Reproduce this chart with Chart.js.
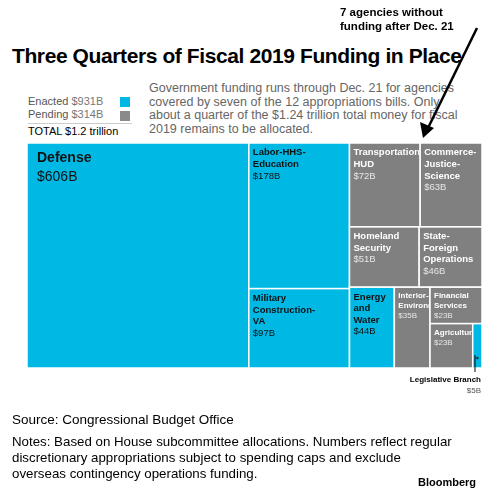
<!DOCTYPE html>
<html><head><meta charset="utf-8">
<script src="https://cdn.jsdelivr.net/npm/chart.js@4"></script>
<style>
body{margin:0;width:498px;height:495px;background:#fff;font-family:"Liberation Sans",Arial,sans-serif;position:relative;overflow:hidden}
.a{position:absolute}
</style></head><body>
<div class="a" style="left:12px;top:44px;font-size:21px;font-weight:bold;letter-spacing:-0.4px;color:#000;white-space:nowrap">Three Quarters of Fiscal 2019 Funding in Place</div>
<div class="a" style="left:28px;top:95px;font-size:11px;color:#555;line-height:13px">Enacted <span style="color:#777">$931B</span><br>Pending <span style="color:#777">$314B</span></div>
<div class="a" style="left:120px;top:97px;width:10px;height:10px;background:#00b8e4"></div>
<div class="a" style="left:120px;top:111px;width:10px;height:10px;background:#8a8a8a"></div>
<div class="a" style="left:28px;top:123px;width:104px;border-top:1px solid #ccc;font-size:11px;color:#000;padding-top:1px">TOTAL $1.2 trillion</div>
<div class="a" style="left:149px;top:82px;font-size:12.5px;color:#666;line-height:13.5px;white-space:nowrap">Government funding runs through Dec. 21 for agencies<br>covered by seven of the 12 appropriations bills. Only<br>about a quarter of the $1.24 trillion total money for fiscal<br>2019 remains to be allocated.</div>
<div class="a" style="left:27px;top:143px;width:455px;height:225px"><canvas id="c"></canvas></div>
<svg class="a" style="left:0;top:0" width="498" height="495">
<line x1="477" y1="28" x2="428" y2="128" stroke="#000" stroke-width="2.5"/>
<polygon points="423,138 420,122 434,128" fill="#000"/>
<line x1="475" y1="355" x2="475" y2="372" stroke="#000" stroke-width="1"/>
</svg>
<div class="a" style="left:340px;top:5px;font-size:11.5px;font-weight:bold;line-height:14px;background:#fff;text-shadow:0 0 2px #fff">7 agencies without<br>funding after Dec. 21</div>
<div class="a" style="left:385px;top:374px;font-size:8px;font-weight:bold;text-align:right;width:96px;line-height:11px">Legislative Branch<br><span style="font-weight:normal;color:#555">$5B</span></div>
<div class="a" style="left:12px;top:412px;font-size:13.5px;color:#000">Source: Congressional Budget Office</div>
<div class="a" style="left:12px;top:434px;font-size:13.3px;color:#000;line-height:16px;white-space:nowrap">Notes: Based on House subcommittee allocations. Numbers reflect regular<br>discretionary appropriations subject to spending caps and exclude<br>overseas contingency operations funding.</div>
<div class="a" style="left:418px;top:476px;font-size:11px;font-weight:bold">Bloomberg</div>
<script>
const names=["Defense","Labor-HHS-Education","Military Construction-VA","Transportation-HUD","Commerce-Justice-Science","Homeland Security","State-Foreign Operations","Energy and Water","Interior-Environment","Financial Services","Agriculture","Legislative Branch"];
const labels=[["Defense"],["Labor-HHS-","Education"],["Military","Construction-","VA"],["Transportation-","HUD"],["Commerce-","Justice-","Science"],["Homeland","Security"],["State-","Foreign","Operations"],["Energy","and","Water"],["Interior-","Environment"],["Financial","Services"],["Agriculture"],[""]];
const values=[606,178,97,72,63,51,46,44,35,23,23,5];
const status=["enacted","enacted","enacted","pending","pending","pending","pending","enacted","pending","pending","pending","enacted"];
const tree={d:"h",c:[0,{d:"v",c:[1,2]},{d:"v",c:[{d:"h",c:[3,4]},{d:"h",c:[5,6]},{d:"h",c:[7,8,{d:"v",c:[9,{d:"h",c:[10,11]}]}]}]}]};
const sum=n=>typeof n==="number"?values[n]:n.c.reduce((s,k)=>s+sum(k),0);
const rects=[];
function lay(n,x0,y0,x1,y1){
  if(typeof n==="number"){rects[n]={x0,y0,x1,y1};return;}
  const t=sum(n);let p=n.d==="h"?x0:y0;
  n.c.forEach(k=>{const f=sum(k)/t;
    if(n.d==="h"){const w=(x1-x0)*f;lay(k,p,y0,p+w,y1);p+=w;}
    else{const h=(y1-y0)*f;lay(k,x0,p,x1,p+h);p+=h;}});
}
lay(tree,0,0,1,1);
const cellPlugin={id:"cells",afterDatasetsDraw(ch){
  const ctx=ch.ctx,xs=ch.scales.x,ys=ch.scales.y;
  rects.forEach((r,i)=>{
    const X0=xs.getPixelForValue(r.x0),X1=xs.getPixelForValue(r.x1);
    const Y0=ys.getPixelForValue(r.y0),Y1=ys.getPixelForValue(r.y1);
    const en=status[i]==="enacted";
    ctx.fillStyle=en?"#00b8e4":"#808080";
    ctx.fillRect(X0,Y0,X1-X0,Y1-Y0);
    ctx.strokeStyle="#fff";ctx.lineWidth=1.5;ctx.strokeRect(X0,Y0,X1-X0,Y1-Y0);
    if(!labels[i][0])return;
    const big=values[i]>500,small=values[i]<40;
    const fs=big?14:small?8:9.5,lh=fs*1.22;
    ctx.save();
    if(i!==8){ctx.beginPath();ctx.rect(X0,Y0,X1-X0-1,Y1-Y0);ctx.clip();}
    ctx.textBaseline="top";ctx.textAlign="left";
    let y=Y0+(big?8:5);
    ctx.fillStyle=en?"#111":"#fff";ctx.font="bold "+fs+"px 'Liberation Sans',Arial";
    labels[i].forEach(l=>{ctx.fillText(l,X0+(big?10:4),y);y+=lh;});
    ctx.fillStyle=en?"#111":"#e6e6e6";ctx.font=fs+"px 'Liberation Sans',Arial";
    ctx.fillText("$"+values[i]+"B",X0+(big?10:4),y+(big?2:0));
    ctx.restore();
  });
  ctx.fillStyle="#333";const lr=rects[11];
  ctx.beginPath();ctx.arc((xs.getPixelForValue(lr.x0)+xs.getPixelForValue(lr.x1))/2,ys.getPixelForValue(lr.y1)-10,1.3,0,7);ctx.fill();
}};
new Chart(document.getElementById("c"),{type:"scatter",data:{datasets:[{data:[]}]},
 options:{responsive:true,maintainAspectRatio:false,animation:false,layout:{padding:0},
  plugins:{legend:{display:false},tooltip:{enabled:false}},
  scales:{x:{type:"linear",min:0,max:1,display:false},y:{type:"linear",min:0,max:1,reverse:true,display:false}}},
 plugins:[cellPlugin]});
</script>
</body></html>
